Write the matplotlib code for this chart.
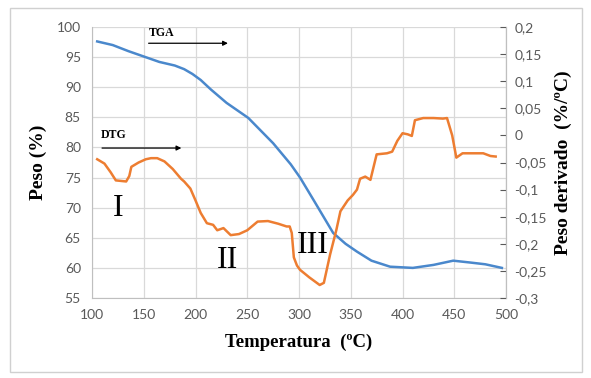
import matplotlib
matplotlib.use("Agg")
import matplotlib.pyplot as plt
from matplotlib.patches import Rectangle

# TGA curve (left axis, %)
tga_t = [105, 120, 135, 150, 165, 180, 189, 197, 205, 215, 230, 251, 275, 292, 301,
         315, 333, 345, 356, 370, 388, 410, 430, 449, 465, 480, 496]
tga_w = [97.6, 97.0, 96.0, 95.1, 94.2, 93.6, 93.0, 92.2, 91.2, 89.6, 87.4, 84.9, 80.7,
         77.2, 75.0, 71.0, 65.8, 64.0, 62.7, 61.2, 60.2, 60.0, 60.5, 61.2, 60.9, 60.6, 60.0]

# DTG curve (right axis, %/ºC)
dtg_t = [105, 112, 118, 123, 133, 136, 138, 145, 152, 157, 163, 170, 178, 186, 189, 195,
         200, 205, 211, 217, 221, 227, 234, 242, 250, 260, 270, 280, 288, 291, 293, 295,
         298, 301, 310, 320, 324, 330, 336, 340, 347, 352, 356, 359, 364, 369, 375, 385,
         390, 395, 400, 405, 409, 412, 420, 430, 439, 443, 448, 452, 458, 470, 478, 485, 490]
dtg_v = [-0.044, -0.052, -0.068, -0.083, -0.085, -0.075, -0.058, -0.050, -0.044, -0.042,
         -0.042, -0.048, -0.062, -0.080, -0.085, -0.098, -0.120, -0.143, -0.162, -0.165,
         -0.175, -0.171, -0.184, -0.182, -0.175, -0.159, -0.158, -0.163, -0.168, -0.168,
         -0.180, -0.225, -0.240, -0.248, -0.262, -0.276, -0.272, -0.220, -0.175, -0.140,
         -0.120, -0.110, -0.100, -0.080, -0.076, -0.082, -0.035, -0.033, -0.030, -0.010,
         0.004, 0.002, -0.001, 0.028, 0.032, 0.032, 0.031, 0.032, 0.000, -0.041, -0.033,
         -0.033, -0.033, -0.038, -0.039]

x_ticks = [100, 150, 200, 250, 300, 350, 400, 450, 500]
left_ticks = [55, 60, 65, 70, 75, 80, 85, 90, 95, 100]
right_ticks = [-0.3, -0.25, -0.2, -0.15, -0.1, -0.05, 0, 0.05, 0.1, 0.15, 0.2]
right_labels = ["-0,3", "-0,25", "-0,2", "-0,15", "-0,1", "-0,05", "0", "0,05", "0,1", "0,15", "0,2"]

tick_col = "#595959"
grid_col = "#d9d9d9"

fig = plt.figure(figsize=(5.91, 3.78), dpi=100)
fig.patches.append(Rectangle((0.017, 0.016), 0.968, 0.963, transform=fig.transFigure,
                             fill=False, edgecolor="#d0d0d0", lw=1.0))

ax = fig.add_axes([0.1557, 0.2116, 0.7005, 0.717])
ax.plot(tga_t, tga_w, color="#4a88cc", lw=1.8, zorder=3)
ax.set_xlim(100, 500)
ax.set_ylim(55, 100)
ax.set_xticks(x_ticks)
ax.set_yticks(left_ticks)
ax.grid(True, color=grid_col, lw=0.9)
ax.set_axisbelow(True)
ax.spines["top"].set_visible(False)
for s in ["left", "bottom", "right"]:
    ax.spines[s].set_color("#bfbfbf")
ax.tick_params(colors=tick_col, labelsize=10, length=0, pad=8)
for lab in ax.get_xticklabels() + ax.get_yticklabels():
    lab.set_family("Lato")
ax.set_xlabel("Temperatura  (ºC)", family="Liberation Serif", fontweight="bold",
              fontsize=13.5, labelpad=9)
ax.set_ylabel("Peso (%)", family="Liberation Serif", fontweight="bold", fontsize=14,
              labelpad=7)

ax2 = ax.twinx()
ax2.plot(dtg_t, dtg_v, color="#ed7d31", lw=1.8, zorder=3)
ax2.set_ylim(-0.3, 0.2)
ax2.set_yticks(right_ticks)
ax2.set_yticklabels(right_labels)
for s in ["top", "left", "bottom"]:
    ax2.spines[s].set_visible(False)
ax2.spines["right"].set_color("#bfbfbf")
ax2.tick_params(colors=tick_col, labelsize=10, length=4, direction="in", pad=6)
for lab in ax2.get_yticklabels():
    lab.set_family("Lato")
ax2.set_ylabel("Peso derivado  (%/ºC)", family="Liberation Serif", fontweight="bold",
               fontsize=14, labelpad=6)

# annotations
ax.text(155, 99.0, "TGA", family="Liberation Serif", fontweight="bold", fontsize=8.5,
        va="center")
ax.annotate("", xy=(234, 97.3), xytext=(152, 97.3),
            arrowprops=dict(arrowstyle="-|>", color="black", lw=0.9, mutation_scale=7))
ax.text(108, 82.1, "DTG", family="Liberation Serif", fontweight="bold", fontsize=8.5,
        va="center")
ax.annotate("", xy=(189, 79.9), xytext=(107, 79.9),
            arrowprops=dict(arrowstyle="-|>", color="black", lw=0.9, mutation_scale=7))
ax.text(125, 69.8, "I", family="Liberation Serif", fontsize=23, ha="center", va="center")
ax.text(231, 61.3, "II", family="Liberation Serif", fontsize=23, ha="center", va="center")
ax.text(313, 63.8, "III", family="Liberation Serif", fontsize=23, ha="center", va="center")

fig.savefig("out.png", dpi=100)
